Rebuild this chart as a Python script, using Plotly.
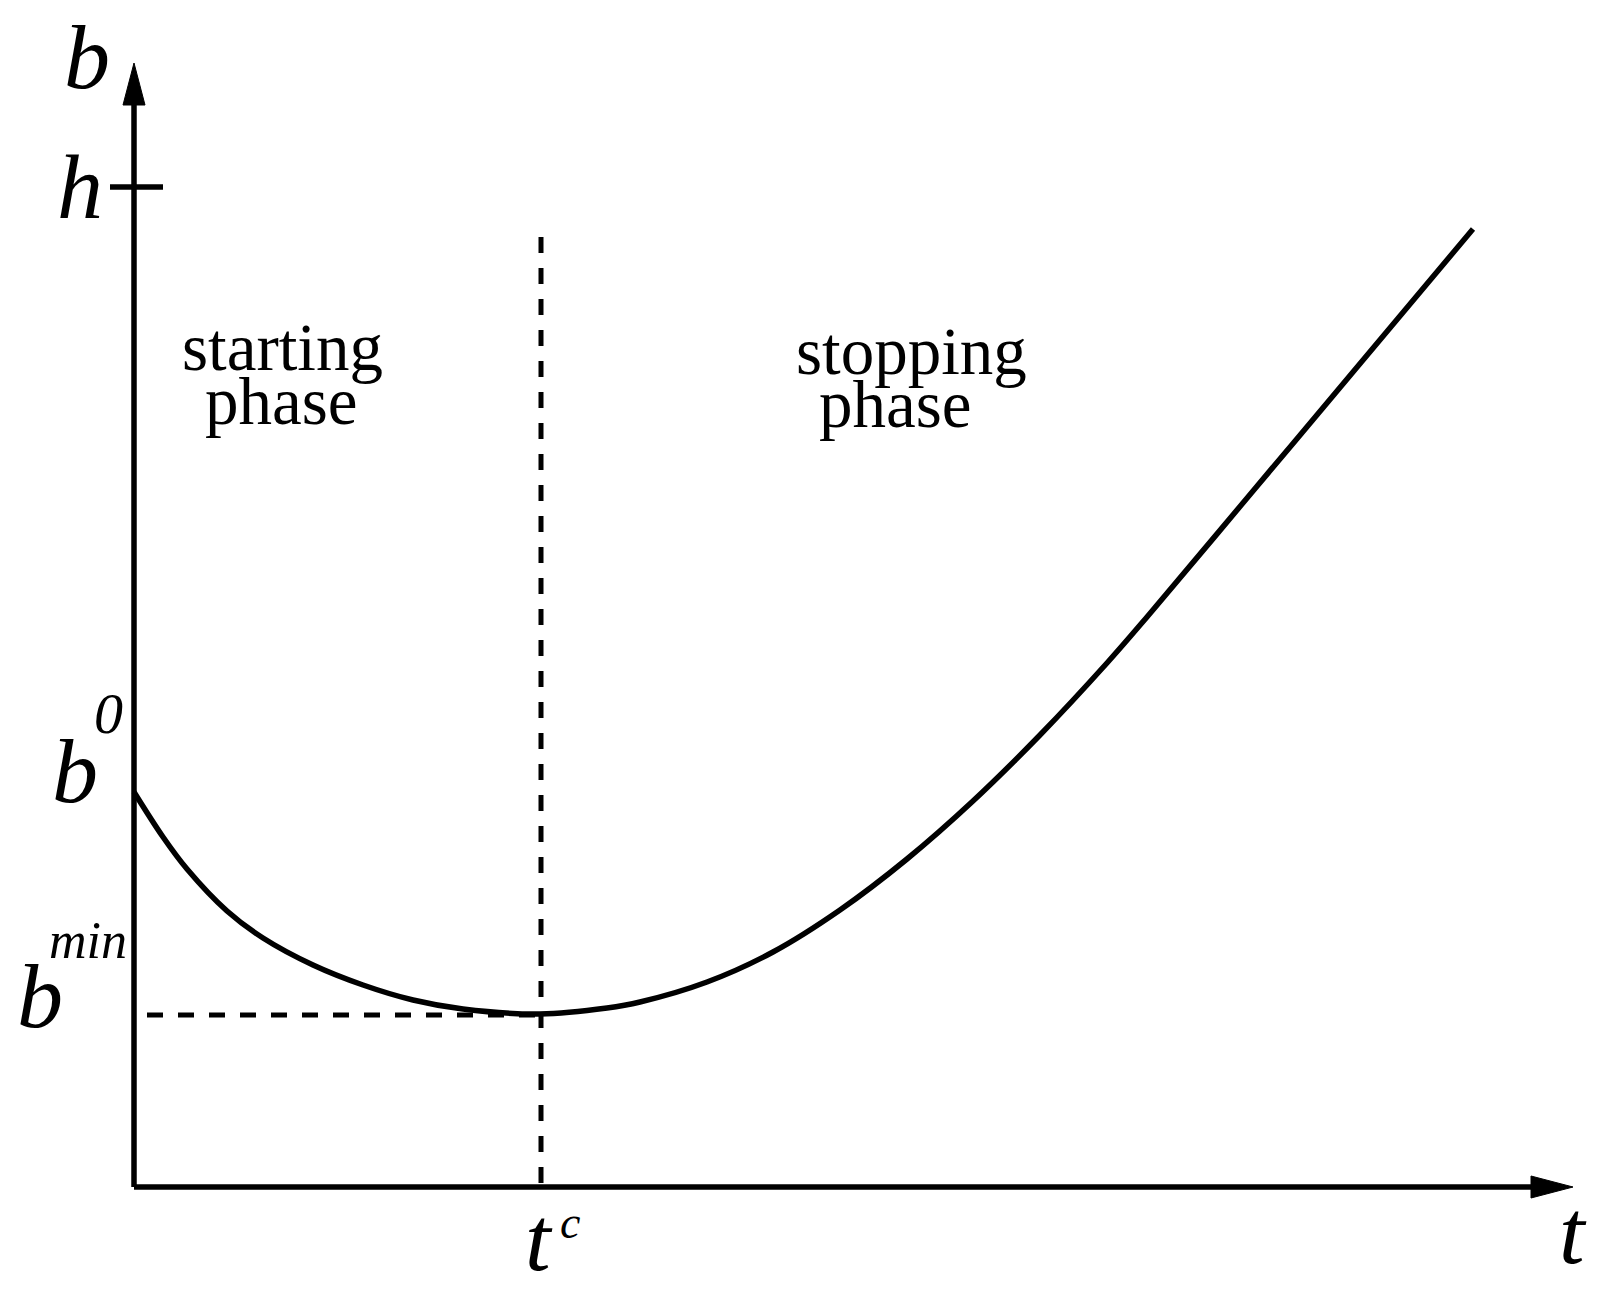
"""
Схема b(t): фаза разгона и фаза остановки
"""

import plotly.graph_objects as go

# Кривая b(t)
t_curve = [0.0, 2.9, 5.3, 9.3, 12.9, 17.9, 22.9, 27.9, 32.9, 40.6, 47.3, 50.6,
           57.3, 63.9, 70.6, 77.3, 83.9, 90.6, 97.3, 101.3, 111.9, 121.9, 133.9]
b_curve = [39.5, 35.0, 31.8, 27.6, 24.9, 22.2, 20.2, 18.7, 17.8, 17.3, 17.9, 18.5,
           20.5, 23.5, 27.7, 32.8, 38.6, 45.2, 52.4, 57.0, 69.6, 81.5, 95.8]

# Особые значения
t_c = 40.7
b_min = 17.2
b_0 = 39.5
h = 100.0
dashed_top = 95.0
t_axis_end = 143.9
b_axis_end = 112.4

# Подписи фаз
phase_labels = ['starting', 'phase', 'stopping', 'phase']
phase_t = [14.8, 14.7, 77.7, 76.1]
phase_b = [84.0, 78.6, 83.6, 78.3]

FONT = 'Liberation Serif'
BIG = 92
SUP = 52
LW = 5.5

fig = go.Figure()

fig.add_trace(go.Scatter(
    x=t_curve, y=b_curve,
    mode='lines',
    line=dict(color='black', width=LW, shape='spline', smoothing=1.0, simplify=False),
    showlegend=False, hoverinfo='skip'
))

shapes = []
# Оси
shapes.append(dict(type='line', xref='x', yref='y', x0=0, y0=0, x1=t_axis_end - 3, y1=0,
                   line=dict(color='black', width=LW)))
shapes.append(dict(type='line', xref='x', yref='y', x0=0, y0=0, x1=0, y1=b_axis_end - 3,
                   line=dict(color='black', width=LW)))
# Стрелки
head_len, head_half = 4.2, 1.1
shapes.append(dict(
    type='path', xref='x', yref='y',
    path=f'M {t_axis_end},0 L {t_axis_end - head_len},{head_half} '
         f'L {t_axis_end - head_len},{-head_half} Z',
    fillcolor='black', line=dict(color='black', width=1)))
shapes.append(dict(
    type='path', xref='x', yref='y',
    path=f'M 0,{b_axis_end} L {-head_half},{b_axis_end - head_len} '
         f'L {head_half},{b_axis_end - head_len} Z',
    fillcolor='black', line=dict(color='black', width=1)))
# Засечка h
shapes.append(dict(type='line', xref='x', yref='y', x0=-2.4, y0=h, x1=2.9, y1=h,
                   line=dict(color='black', width=LW)))
# Пунктиры
shapes.append(dict(type='line', xref='x', yref='y', x0=t_c, y0=dashed_top, x1=t_c, y1=0,
                   line=dict(color='black', width=5, dash='16px,15px')))
shapes.append(dict(type='line', xref='x', yref='y', x0=1.3, y0=b_min, x1=t_c, y1=b_min,
                   line=dict(color='black', width=5, dash='16px,15px')))


def label(text, x, y, size):
    return dict(x=x, y=y, xref='x', yref='y', text=f'<i>{text}</i>', showarrow=False,
                xanchor='center', yanchor='middle',
                font=dict(family=FONT, size=size, color='black'))


annotations = [
    label('b', -4.7, 113.0, BIG),
    label('h', -5.4, h, BIG),
    label('b', -5.9, b_0 + 2.1, BIG),
    label('0', -2.6, b_0 + 7.9, 58),
    label('b', -9.4, b_min + 1.9, BIG),
    label('min', -4.6, b_min + 7.5, SUP),
    label('t', t_c - 0.2, -5.2, BIG),
    label('c', t_c + 2.9, -3.5, 46),
    label('t', t_axis_end, -4.5, BIG),
]
for txt, x, y in zip(phase_labels, phase_t, phase_b):
    annotations.append(dict(x=x, y=y, xref='x', yref='y', text=txt, showarrow=False,
                            xanchor='center', yanchor='middle',
                            font=dict(family=FONT, size=67, color='black')))

fig.update_layout(
    width=1589, height=1280,
    margin=dict(l=0, r=0, t=0, b=0),
    paper_bgcolor='white', plot_bgcolor='white',
    xaxis=dict(range=[-12.6, 146.3], visible=False, fixedrange=True),
    yaxis=dict(range=[-10.1, 117.9], visible=False, fixedrange=True),
    shapes=shapes,
    annotations=annotations,
    showlegend=False
)

fig.write_html('out.html')
